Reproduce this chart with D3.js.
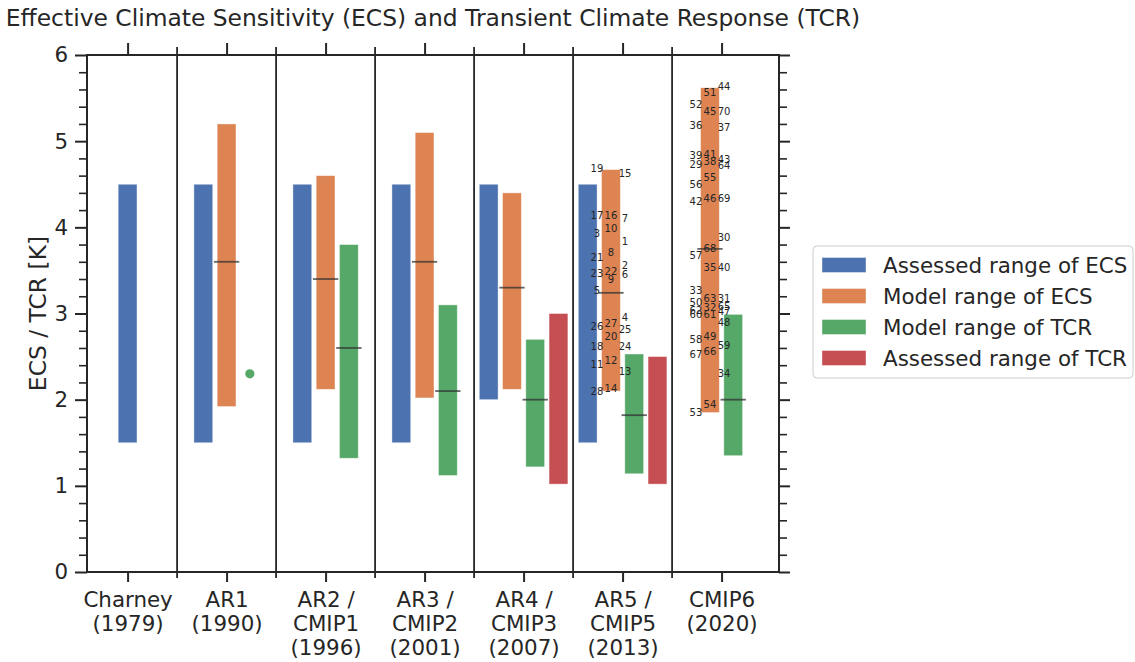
<!DOCTYPE html>
<meta charset="utf-8">
<style>
  body { margin: 0; background: #fff; }
  text { font-family: "DejaVu Sans", sans-serif; fill: #262626; }
</style>
<svg width="1135" height="662"></svg>
<script src="https://d3js.org/d3.v7.min.js"></script>
<script>
// categories (one per assessment / model generation)
var categories = [
  ["Charney", "(1979)"],
  ["AR1", "(1990)"],
  ["AR2 /", "CMIP1", "(1996)"],
  ["AR3 /", "CMIP2", "(2001)"],
  ["AR4 /", "CMIP3", "(2007)"],
  ["AR5 /", "CMIP5", "(2013)"],
  ["CMIP6", "(2020)"]
];

// ranges [low, high], null where absent
var assessedECS = [[1.5, 4.5], [1.5, 4.5], [1.5, 4.5], [1.5, 4.5], [2.0, 4.5], [1.5, 4.5], null];
var modelECS    = [null, [1.92, 5.2], [2.12, 4.6], [2.02, 5.1], [2.12, 4.4], [2.10, 4.67], [1.85, 5.62]];
var modelECSmid = [null, 3.6, 3.4, 3.6, 3.3, 3.24, 3.75];
var modelTCR    = [null, null, [1.32, 3.8], [1.12, 3.1], [1.22, 2.7], [1.14, 2.53], [1.35, 2.99]];
var modelTCRmid = [null, null, 2.6, 2.1, 2.0, 1.82, 2.0];
var modelTCRpt  = [null, 2.3, null, null, null, null, null];
var assessedTCR = [null, null, null, null, [1.02, 3.0], [1.02, 2.5], null];

var seriesNames  = ["Assessed range of ECS", "Model range of ECS", "Model range of TCR", "Assessed range of TCR"];
var seriesColors = ["#4c72b0", "#dd8452", "#55a868", "#c44e52"];

// individual model ECS labels (column: 0 left, 1 on bar, 2 right)
var cmip5Ids = [19, 15, 17, 16, 7, 10, 3, 1, 8, 21, 2, 22, 23, 6, 9, 5, 4, 27, 26, 25, 20, 18, 24, 12, 11, 13, 14, 28];
var cmip5Ecs = [4.68, 4.63, 4.14, 4.14, 4.10, 3.99, 3.93, 3.84, 3.71, 3.65, 3.56, 3.49, 3.47, 3.45, 3.40, 3.27,
                2.96, 2.88, 2.85, 2.82, 2.74, 2.62, 2.62, 2.46, 2.41, 2.33, 2.13, 2.10];
var cmip5Col = [0, 2, 0, 1, 2, 1, 0, 2, 1, 0, 2, 1, 0, 2, 1, 0, 2, 1, 0, 2, 1, 0, 2, 1, 0, 2, 1, 0];

var cmip6Ids = [44, 51, 52, 70, 45, 36, 37, 41, 39, 43, 38, 29, 64, 55, 56, 46, 69, 42, 30, 68, 57,
                40, 35, 33, 31, 63, 50, 65, 32, 62, 47, 61, 60, 48, 49, 58, 59, 66, 67, 34, 54, 53];
var cmip6Ecs = [5.63, 5.57, 5.43, 5.35, 5.34, 5.18, 5.16, 4.85, 4.83, 4.79, 4.76, 4.73, 4.72, 4.58, 4.50, 4.33, 4.33, 4.30, 3.88, 3.75, 3.67,
                3.54, 3.54, 3.27, 3.18, 3.17, 3.13, 3.08, 3.07, 3.04, 3.03, 2.99, 2.99, 2.90, 2.74, 2.70, 2.63, 2.56, 2.52, 2.31, 1.95, 1.85];
var cmip6Col = [2, 1, 0, 2, 1, 0, 2, 1, 0, 2, 1, 0, 2, 1, 0, 1, 2, 0, 2, 1, 0,
                2, 1, 0, 2, 1, 0, 2, 1, 0, 2, 1, 0, 2, 1, 0, 2, 1, 0, 2, 1, 0];

var yMajor = [0, 1, 2, 3, 4, 5, 6];
var title = "Effective Climate Sensitivity (ECS) and Transient Climate Response (TCR)";

var svg = d3.select("svg");
var mL = 87, mR = 779, mT = 55, mB = 572;
var tickFont = "21.4px", bigFont = "23.4px";

var x = d3.scaleLinear().domain([-0.41, 6.58]).range([mL, mR]);
var y = d3.scaleLinear().domain([0, 6]).range([mB, mT]);

var step = 0.235, barW = 0.19;

// minor ticks every 0.2
var yMinor = d3.range(0, 30).map(function(i) { return i / 5; }).filter(function(v) { return Math.abs(v - Math.round(v)) > 1e-6; });

// work out which items are present in each group, then center them
var groups = categories.map(function(c, i) {
  var items = [];
  if (assessedECS[i]) items.push({s: 0, r: assessedECS[i]});
  if (modelECS[i]) items.push({s: 1, r: modelECS[i], mid: modelECSmid[i]});
  if (modelTCR[i]) items.push({s: 2, r: modelTCR[i], mid: modelTCRmid[i]});
  if (modelTCRpt[i] != null) items.push({s: 2, pt: modelTCRpt[i]});
  if (assessedTCR[i]) items.push({s: 3, r: assessedTCR[i]});
  items.forEach(function(d, k) { d.pos = i + (k - (items.length - 1) / 2) * step; });
  return items;
});
var items = d3.merge(groups);

var plot = svg.append("g");

plot.selectAll("rect.bar")
  .data(items.filter(function(d) { return d.r; }))
  .enter().append("rect")
    .attr("class", "bar")
    .attr("x", function(d) { return x(d.pos - barW / 2); })
    .attr("width", function(d) { return x(barW) - x(0); })
    .attr("y", function(d) { return y(d.r[1]); })
    .attr("height", function(d) { return y(d.r[0]) - y(d.r[1]); })
    .attr("fill", function(d) { return seriesColors[d.s]; })
    .attr("stroke", "#fff")
    .attr("stroke-opacity", 0.5)
    .attr("stroke-width", 0.8);

plot.selectAll("circle.pt")
  .data(items.filter(function(d) { return d.pt != null; }))
  .enter().append("circle")
    .attr("cx", function(d) { return x(d.pos); })
    .attr("cy", function(d) { return y(d.pt); })
    .attr("r", 4.6)
    .attr("fill", seriesColors[2]);

plot.selectAll("line.mid")
  .data(items.filter(function(d) { return d.mid != null; }))
  .enter().append("line")
    .attr("x1", function(d) { return x(d.pos - 0.128); })
    .attr("x2", function(d) { return x(d.pos + 0.128); })
    .attr("y1", function(d) { return y(d.mid); })
    .attr("y2", function(d) { return y(d.mid); })
    .attr("stroke", "#333")
    .attr("stroke-opacity", 0.75)
    .attr("stroke-width", 1.8);

// model number labels
function modelLabels(gi, ids, ecs, cols) {
  var center = groups[gi].filter(function(d) { return d.s === 1; })[0].pos;
  plot.append("g").selectAll("text")
    .data(ids.map(function(id, k) { return {id: id, v: ecs[k], c: cols[k]}; }))
    .enter().append("text")
      .attr("x", function(d) { return x(center + (d.c - 1) * 0.142); })
      .attr("y", function(d) { return y(d.v); })
      .attr("dy", "0.36em")
      .attr("text-anchor", "middle")
      .style("font-size", "10px")
      .text(function(d) { return d.id; });
}
modelLabels(5, cmip5Ids, cmip5Ecs, cmip5Col);
modelLabels(6, cmip6Ids, cmip6Ecs, cmip6Col);

// separators between groups
svg.append("g").selectAll("line")
  .data(d3.range(0.5, 6, 1))
  .enter().append("line")
    .attr("x1", function(d) { return x(d); })
    .attr("x2", function(d) { return x(d); })
    .attr("y1", mT - 8)
    .attr("y2", mB + 6)
    .attr("stroke", "#262626")
    .attr("stroke-width", 1.8);

// axes
function styleAxis(g, w) {
  g.select(".domain").remove();
  g.selectAll(".tick line").attr("stroke", "#262626").attr("stroke-width", w);
  g.selectAll(".tick text").style("font-size", tickFont).attr("fill", "#262626");
}

svg.append("g").attr("transform", "translate(" + mL + ",0)")
  .call(d3.axisLeft(y).tickValues(yMajor).tickSize(12).tickPadding(7).tickFormat(d3.format("d")))
  .call(styleAxis, 2);
svg.append("g").attr("transform", "translate(" + mL + ",0)")
  .call(d3.axisLeft(y).tickValues(yMinor).tickSize(8).tickFormat(""))
  .call(styleAxis, 1.6);
svg.append("g").attr("transform", "translate(" + mR + ",0)")
  .call(d3.axisRight(y).tickValues(yMajor).tickSize(11).tickFormat(""))
  .call(styleAxis, 2);
svg.append("g").attr("transform", "translate(" + mR + ",0)")
  .call(d3.axisRight(y).tickValues(yMinor).tickSize(8).tickFormat(""))
  .call(styleAxis, 1.6);
svg.append("g").attr("transform", "translate(0," + mT + ")")
  .call(d3.axisTop(x).tickValues(d3.range(categories.length)).tickSize(12).tickFormat(""))
  .call(styleAxis, 2);
var xb = svg.append("g").attr("transform", "translate(0," + mB + ")")
  .call(d3.axisBottom(x).tickValues(d3.range(categories.length)).tickSize(10).tickFormat(""))
  .call(styleAxis, 2);

xb.selectAll(".tick").append("text")
  .attr("text-anchor", "middle")
  .style("font-size", tickFont)
  .each(function(d) {
    var t = d3.select(this);
    categories[d].forEach(function(line, k) {
      t.append("tspan").attr("x", 0).attr("y", 35 + k * 23.8).text(line);
    });
  });

// spines
svg.append("rect")
  .attr("x", mL).attr("y", mT)
  .attr("width", mR - mL).attr("height", mB - mT)
  .attr("fill", "none").attr("stroke", "#262626").attr("stroke-width", 2);

// axis label and title
svg.append("text")
  .attr("transform", "translate(38," + ((mT + mB) / 2) + ") rotate(-90)")
  .attr("text-anchor", "middle")
  .attr("dy", "0.35em")
  .style("font-size", bigFont)
  .text("ECS / TCR [K]");

svg.append("text")
  .attr("x", (mL + mR) / 2)
  .attr("y", 26)
  .attr("text-anchor", "middle")
  .style("font-size", bigFont)
  .text(title);

// legend
var lg = svg.append("g").attr("transform", "translate(813,246)");
lg.append("rect")
  .attr("width", 320).attr("height", 132)
  .attr("rx", 4)
  .attr("fill", "#fff").attr("stroke", "#cccccc").attr("stroke-width", 1);
var rows = lg.selectAll("g.row").data(seriesNames).enter().append("g")
  .attr("transform", function(d, i) { return "translate(0," + (19 + i * 31) + ")"; });
rows.append("rect")
  .attr("x", 9).attr("y", -7.5).attr("width", 44).attr("height", 15)
  .attr("fill", function(d, i) { return seriesColors[i]; })
  .attr("stroke", "#fff").attr("stroke-opacity", 0.5).attr("stroke-width", 0.8);
rows.append("text")
  .attr("x", 70).attr("dy", "0.35em")
  .style("font-size", tickFont)
  .text(function(d) { return d; });
</script>
